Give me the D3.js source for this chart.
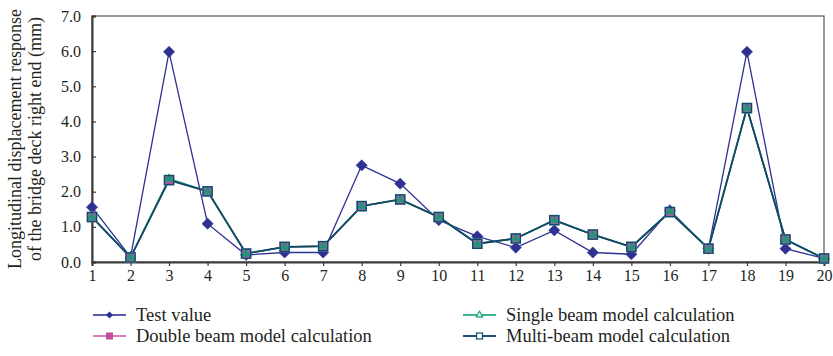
<!DOCTYPE html>
<html>
<head>
<meta charset="utf-8">
<script src="https://cdn.jsdelivr.net/npm/d3@7"></script>
<style>
  html, body { margin: 0; padding: 0; background: #fff; }
  svg { display: block; }
  text { font-family: "Liberation Serif", "Times New Roman", serif; fill: #231f20; }
</style>
</head>
<body>
<svg id="chart" width="833" height="356"></svg>
<script>
// Measuring points along the deck
const points = d3.range(1, 21);

// Longitudinal displacement at the right end of the bridge deck (mm)
const testValue   = [1.56, 0.14, 5.98, 1.09, 0.20, 0.27, 0.27, 2.75, 2.23, 1.19, 0.73, 0.41, 0.90, 0.27, 0.22, 1.47, 0.38, 5.98, 0.38, 0.10];
const singleBeam  = [1.28, 0.13, 2.37, 2.01, 0.24, 0.43, 0.45, 1.59, 1.78, 1.28, 0.52, 0.67, 1.19, 0.78, 0.43, 1.44, 0.38, 4.38, 0.64, 0.10];
const doubleBeam  = [1.28, 0.13, 2.33, 2.01, 0.24, 0.43, 0.45, 1.59, 1.78, 1.28, 0.52, 0.67, 1.19, 0.78, 0.43, 1.42, 0.38, 4.38, 0.64, 0.10];
const multiBeam   = [1.28, 0.13, 2.33, 2.01, 0.24, 0.43, 0.45, 1.59, 1.78, 1.28, 0.52, 0.67, 1.19, 0.78, 0.43, 1.42, 0.38, 4.38, 0.64, 0.10];

const yTicks = [0, 1, 2, 3, 4, 5, 6, 7];

const svg = d3.select("#chart").attr("font-family", "Liberation Serif, serif");
const margin = { left: 92, right: 9, top: 16, bottom: 94 };
const W = 833, H = 356;
const x = d3.scalePoint().domain(points).range([margin.left, W - margin.right]);
const y = d3.scaleLinear().domain([0, 7]).range([H - margin.bottom, margin.top]);

const axisColor = "#3a3a3a";
const fontStack = "'Liberation Serif', 'Times New Roman', serif";

// Frame
svg.append("rect")
  .attr("x", margin.left).attr("y", margin.top)
  .attr("width", W - margin.right - margin.left)
  .attr("height", H - margin.bottom - margin.top)
  .attr("fill", "none").attr("stroke", "#555").attr("stroke-width", 1.2);

// X axis
const gx = svg.append("g")
  .attr("transform", `translate(0,${H - margin.bottom})`)
  .call(d3.axisBottom(x).tickSize(4).tickPadding(4));
gx.attr("font-family", null);
gx.select(".domain").attr("stroke", axisColor).attr("stroke-width", 2);
gx.selectAll(".tick line").attr("stroke", axisColor).attr("stroke-width", 1.2);
gx.selectAll(".tick text").style("font-size", "16px").attr("fill", "#231f20")
  .style("font-family", fontStack);

// Y axis, ticks pointing into the plot
const gy = svg.append("g")
  .attr("transform", `translate(${margin.left},0)`)
  .call(d3.axisLeft(y).tickValues(yTicks).tickFormat(d3.format(".1f")).tickSize(-4).tickPadding(11));
gy.attr("font-family", null);
gy.select(".domain").attr("stroke", axisColor).attr("stroke-width", 2);
gy.selectAll(".tick line").attr("stroke", axisColor).attr("stroke-width", 1.2);
gy.selectAll(".tick text").style("font-size", "16px").attr("fill", "#231f20")
  .style("font-family", fontStack);

// Y axis title (two lines)
const yTitle = svg.append("text")
  .attr("transform", `translate(0,${(y(0) + y(7)) / 2}) rotate(-90)`)
  .attr("text-anchor", "middle")
  .style("font-family", fontStack)
  .style("font-size", "18px");
yTitle.append("tspan").attr("x", 0).attr("y", 21).text("Longitudinal displacement response");
yTitle.append("tspan").attr("x", 0).attr("y", 41).text("of the bridge deck right end (mm)");

const line = d3.line().x((d, i) => x(points[i])).y(d => y(d));

const series = [
  { name: "Test value", values: testValue, color: "#2e3192", width: 1.3, marker: "diamond" },
  { name: "Double beam model calculation", values: doubleBeam, color: "#c24b9e", width: 1.5, marker: "filledSquare" },
  { name: "Single beam model calculation", values: singleBeam, color: "#17a37c", width: 1.5, marker: "triangle" },
  { name: "Multi-beam model calculation", values: multiBeam, color: "#0e4b66", width: 1.8, marker: "openSquare" }
];

const diamondPath = r => `M0,${-r}L${r},0L0,${r}L${-r},0Z`;

function drawMarker(g, type, color) {
  if (type === "diamond") {
    g.append("path").attr("d", diamondPath(5.6))
      .attr("fill", color).attr("stroke", color).attr("stroke-width", 0.6);
  } else if (type === "filledSquare") {
    g.append("rect").attr("x", -4.5).attr("y", -4.5).attr("width", 9).attr("height", 9)
      .attr("fill", color).attr("stroke", "#aaa8d8").attr("stroke-width", 1.6);
  } else if (type === "triangle") {
    g.append("path").attr("d", d3.symbol(d3.symbolTriangle, 30)())
      .attr("fill", "#2a8f7a").attr("stroke", color).attr("stroke-width", 1);
  } else if (type === "openSquare") {
    g.append("rect").attr("x", -4.5).attr("y", -4.5).attr("width", 9).attr("height", 9)
      .attr("fill", "none").attr("stroke", color).attr("stroke-width", 1.5);
  }
}

series.forEach(s => {
  svg.append("path").datum(s.values)
    .attr("d", line).attr("fill", "none")
    .attr("stroke", s.color).attr("stroke-width", s.width);
});

series.forEach(s => {
  svg.append("g").selectAll("g").data(s.values).join("g")
    .attr("transform", (d, i) => `translate(${x(points[i])},${y(d)})`)
    .each(function () { drawMarker(d3.select(this), s.marker, s.color); });
});

// Legend
const legendPos = [
  { s: 0, x: 93, y: 315 },
  { s: 2, x: 463, y: 315 },
  { s: 1, x: 93, y: 336 },
  { s: 3, x: 463, y: 336 }
];
const legendLineColor = ["#5a5bb0", "#d77fbf", "#3bb58f", "#1f4f7e"];
legendPos.forEach(p => {
  const s = series[p.s];
  const g = svg.append("g").attr("transform", `translate(${p.x},${p.y})`);
  g.append("line").attr("x1", 0).attr("x2", 33).attr("y1", 0).attr("y2", 0)
    .attr("stroke", legendLineColor[p.s]).attr("stroke-width", 2);
  const m = g.append("g").attr("transform", "translate(16.5,0)");
  if (s.marker === "diamond") {
    m.append("path").attr("d", diamondPath(3.6)).attr("fill", s.color);
  } else if (s.marker === "filledSquare") {
    m.append("rect").attr("x", -3.5).attr("y", -3.5).attr("width", 7).attr("height", 7).attr("fill", s.color);
  } else if (s.marker === "triangle") {
    m.append("path").attr("d", d3.symbol(d3.symbolTriangle, 18)()).attr("fill", "#fff")
      .attr("stroke", s.color).attr("stroke-width", 1.2);
  } else {
    m.append("rect").attr("x", -3).attr("y", -3).attr("width", 6).attr("height", 6)
      .attr("fill", "#fff").attr("stroke", s.color).attr("stroke-width", 1.2);
  }
  g.append("text").attr("x", 43).attr("y", 6)
    .style("font-family", fontStack).style("font-size", "18.5px").text(s.name);
});
</script>
</body>
</html>
